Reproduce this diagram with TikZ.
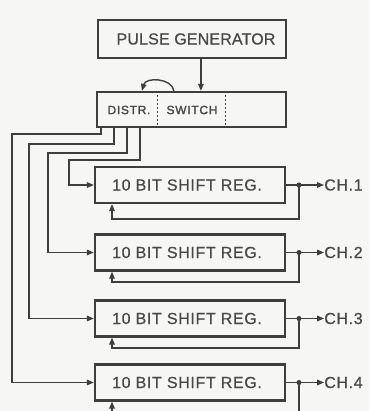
\documentclass[tikz,border=0pt]{standalone}
\usepackage{fontspec}
\setmainfont{Liberation Sans}
\usetikzlibrary{arrows.meta,calc}
\definecolor{bgc}{RGB}{246,246,244}
\definecolor{inkc}{RGB}{62,62,62}
\definecolor{txtc}{RGB}{72,72,72}
\newfontfamily\labfont[LetterSpace=4,FakeBold=0.6]{Liberation Sans}
\newfontfamily\pgfontx[LetterSpace=1,FakeBold=0.6]{Liberation Sans}
\newfontfamily\smallfont[LetterSpace=6,FakeBold=1.8]{Liberation Sans}
\tikzset{
  blk/.style={draw=inkc, line width=2.2pt, fill=bgc, inner sep=0pt, text=txtc,
    font=\labfont\fontsize{16}{16}\selectfont},
  reg/.style={blk, minimum width=190pt, minimum height=36pt},
  conn/.style={draw=inkc, line width=1.4pt},
  tip/.style={-{Triangle[length=7pt,width=5.5pt]}},
  dot/.style={circle, fill=inkc, inner sep=0pt, minimum size=5pt},
  chlab/.style={anchor=west, inner sep=0pt, text=txtc, font=\labfont\fontsize{16}{16}\selectfont},
  sublab/.style={inner sep=0pt, text=txtc, font=\smallfont\fontsize{12}{12}\selectfont},
  divider/.style={draw=inkc, line width=0.8pt, dash pattern=on 2pt off 2pt}
}
\begin{document}
\begin{tikzpicture}[x=1pt,y=-1pt]
\fill[bgc] (0,0) rectangle (369,411);
\useasboundingbox (0,0) rectangle (369,411);

% blocks
\node[blk, minimum width=188pt, minimum height=38pt, font=\pgfontx\fontsize{16}{16}\selectfont] (pg) at (192,39) {\hspace*{8pt}PULSE GENERATOR};
\node[blk, minimum width=189pt, minimum height=35pt] (ds) at (191.5,109.5) {};
\node[sublab] (dl) at (129,110) {DISTR.};
\node[sublab] (sl) at (192,110) {SWITCH};
\draw[divider] ($(ds.north west)+(61,0)$) -- ($(ds.south west)+(61,0)$);
\draw[divider] ($(ds.north west)+(129,0)$) -- ($(ds.south west)+(129,0)$);

\node[reg] (r1) at (190,185) {10 BIT SHIFT REG.\hspace*{6pt}};
\node[reg] (r2) at (190,252.5) {10 BIT SHIFT REG.\hspace*{6pt}};
\node[reg] (r3) at (190,318.5) {10 BIT SHIFT REG.\hspace*{6pt}};
\node[reg] (r4) at (190,382.5) {10 BIT SHIFT REG.\hspace*{6pt}};

% pulse generator to switch
\draw[conn,tip] ($(pg.south west)+(104,0)$) -- ($(ds.north west)+(105,0)$);
% curved arrow on top of the distributor
\draw[conn,tip] ($(ds.north west)+(78,0)$) .. controls ($(ds.north west)+(76,-13)$) and ($(ds.north west)+(50,-14)$) .. ($(ds.north west)+(46,0)$);

% distributor outputs
\coordinate (d1) at ($(ds.south west)+(5,0)$);
\coordinate (d2) at ($(ds.south west)+(18,0)$);
\coordinate (d3) at ($(ds.south west)+(31,0)$);
\coordinate (d4) at ($(ds.south west)+(44,0)$);
\coordinate (k1) at (12,134);
\coordinate (k2) at (29,144);
\coordinate (k3) at (48,153);
\coordinate (k4) at (69,160);
\draw[conn,tip] (d1) |- (k1) |- (r4.west);
\draw[conn,tip] (d2) |- (k2) |- (r3.west);
\draw[conn,tip] (d3) |- (k3) |- (r2.west);
\draw[conn,tip] (d4) |- (k4) |- (r1.west);

% outputs and feedback
\foreach \i/\fb in {1/219,2/282,3/348}{
  \node[dot] (j\i) at (r\i.east -| 299,0) {};
  \node[chlab] (c\i) at ($(r\i.east)+(38,0)$) {CH.\i};
  \draw[conn] (r\i.east) -- (j\i.center);
  \draw[conn,tip] (j\i.center) -- (c\i.west);
  \coordinate (f\i) at (112,\fb);
  \draw[conn,tip] (j\i.center) |- (f\i) -- (f\i |- r\i.south);
}
\node[dot] (j4) at (r4.east -| 299,0) {};
\node[chlab] (c4) at ($(r4.east)+(38,0)$) {CH.4};
\draw[conn] (r4.east) -- (j4.center);
\draw[conn,tip] (j4.center) -- (c4.west);
\coordinate (e4) at (299,411);
\coordinate (f4) at (112,411);
\draw[conn] (j4.center) -- (e4);
\draw[conn,tip] (f4) -- (f4 |- r4.south);
\end{tikzpicture}
\end{document}
